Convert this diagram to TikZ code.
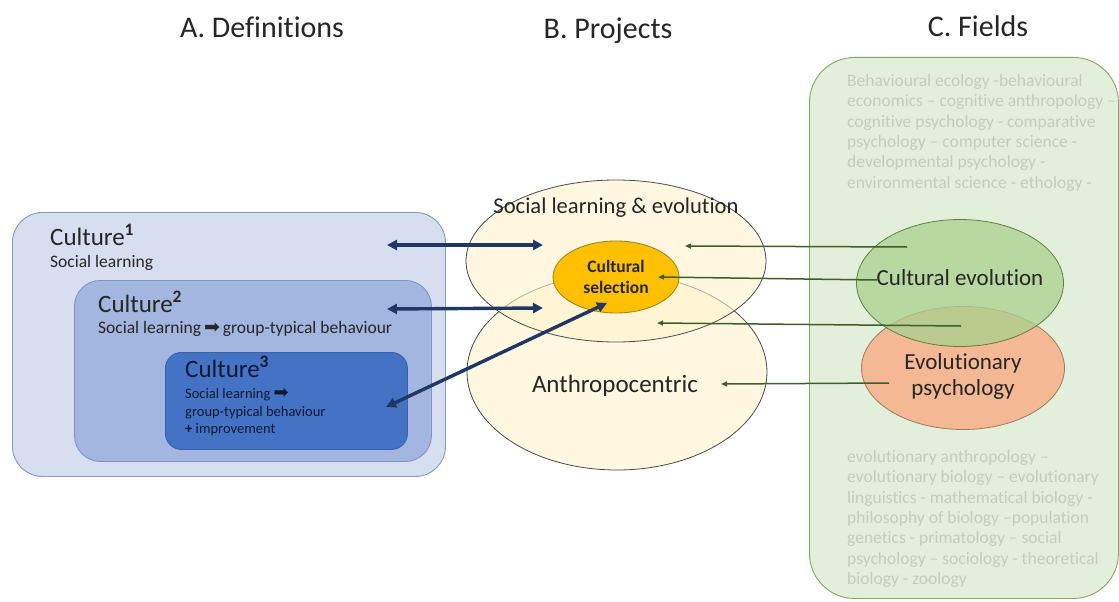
\documentclass[tikz,border=0pt]{standalone}
\usepackage{fontspec}
\setmainfont{Carlito}[Ligatures={TeX,NoCommon}]
\newfontfamily\symfont{DejaVu Sans}
\usetikzlibrary{shapes.geometric,arrows.meta}

\definecolor{inkdark}{HTML}{262626}
\definecolor{defonefill}{HTML}{D6DEF0}
\definecolor{defoneline}{HTML}{8A9BB8}
\definecolor{deftwofill}{HTML}{A2B6E0}
\definecolor{deftwoline}{HTML}{7E95C0}
\definecolor{defthreefill}{HTML}{4472C4}
\definecolor{defthreeline}{HTML}{3A62AC}
\definecolor{defthreetext}{HTML}{0E1A33}
\definecolor{projfill}{HTML}{FFF2CC}
\definecolor{projline}{HTML}{4A4A4A}
\definecolor{selfill}{HTML}{FFC000}
\definecolor{selline}{HTML}{A88520}
\definecolor{fieldfill}{HTML}{E2EFDA}
\definecolor{fieldline}{HTML}{86A865}
\definecolor{fieldtext}{HTML}{C4CDBF}
\definecolor{cevfill}{HTML}{A9D18E}
\definecolor{cevline}{HTML}{5F7F45}
\definecolor{evpfill}{HTML}{F4B994}
\definecolor{evpline}{HTML}{9E7A5E}
\definecolor{navy}{HTML}{203864}
\definecolor{leafgreen}{HTML}{3E5E2A}

\tikzset{
  title/.style={anchor=base, inner sep=0pt, text=inkdark, font=\fontsize{30}{36}\selectfont},
  defbox/.style={draw, anchor=north west, inner sep=0pt, line width=0.9pt},
  label/.style={anchor=base west, inner sep=0pt, text=inkdark},
  proj/.style={ellipse, draw=projline, line width=0.8pt, fill=projfill, fill opacity=0.6, inner sep=0pt},
  fieldtxt/.style={anchor=north west, inner sep=0pt, align=left, text=fieldtext,
    font=\fontsize{17.5}{20.4}\selectfont},
  twoway/.style={draw=navy, line width=3.4pt, {Triangle[length=10pt,width=10pt]}-{Triangle[length=10pt,width=10pt]}},
  feed/.style={draw=leafgreen, line width=1.5pt, -{Triangle[length=6pt,width=5pt]}},
}

\begin{document}
\begin{tikzpicture}[x=1pt,y=-1pt]
\useasboundingbox (0,0) rectangle (1119,602);
\fill[white] (0,0) rectangle (1119,602);

% column headings
\node[title] (headA) at (262,38) {A. Definitions};
\node[title] (headB) at (608,39) {B. Projects};
\node[title] (headC) at (978,37) {C. Fields};

% A: nested definitions of culture
\node[defbox, draw=defoneline, fill=defonefill, rounded corners=30pt,
      minimum width=433pt, minimum height=264pt] (def1) at (12,212) {};
\node[defbox, draw=deftwoline, fill=deftwofill, rounded corners=26pt,
      minimum width=357pt, minimum height=181pt] (def2) at (74,280) {};
\node[defbox, draw=defthreeline, fill=defthreefill, rounded corners=16pt,
      minimum width=242pt, minimum height=97pt] (def3) at (165,352) {};

\node[label, font=\fontsize{25}{30}\selectfont] (c1) at (50,245) {Culture\textsuperscript{\textbf{1}}};
\node[label, font=\fontsize{17.5}{21}\selectfont] (c1s) at (50,267) {Social learning};
\node[label, font=\fontsize{25}{30}\selectfont] (c2) at (98,312) {Culture\textsuperscript{\textbf{2}}};
\node[label, font=\fontsize{17.5}{21}\selectfont] (c2s) at (98,333)
  {Social learning\,{\symfont\fontsize{19}{20}\selectfont ➡}\,group-typical behaviour};
\node[label, font=\fontsize{25}{30}\selectfont, text=defthreetext] (c3) at (185,377) {Culture\textsuperscript{\textbf{3}}};
\node[label, font=\fontsize{14.5}{17}\selectfont, text=defthreetext] (c3a) at (185,398)
  {Social learning {\symfont\fontsize{18}{18}\selectfont ➡}};
\node[label, font=\fontsize{14.5}{17}\selectfont, text=defthreetext] (c3b) at (185,416) {group-typical behaviour};
\node[label, font=\fontsize{14.5}{17}\selectfont, text=defthreetext] (c3c) at (185,433) {\textbf{+} improvement};

% B: research projects
\node[proj, minimum width=300pt, minimum height=196pt] (anthro) at (617,372) {};
\node[proj, minimum width=300pt, minimum height=162pt] (slevo) at (616,261) {};
\node[anchor=base, inner sep=0pt, text=inkdark, font=\fontsize{22.6}{27}\selectfont] (slevot) at (616,213) {Social learning \& evolution};
\node[anchor=base, inner sep=0pt, text=inkdark, font=\fontsize{25}{30}\selectfont] (anthrot) at (615,392) {Anthropocentric};
\node[ellipse, draw=selline, line width=0.9pt, fill=selfill, inner sep=0pt,
      minimum width=126pt, minimum height=72pt, align=center, text=inkdark,
      font=\bfseries\fontsize{17.5}{21}\selectfont] (sel) at (616,277) {Cultural\\selection};

% C: contributing fields
\node[draw=fieldline, fill=fieldfill, line width=0.9pt, rounded corners=45pt,
      anchor=north west, inner sep=0pt, minimum width=309pt, minimum height=541pt] (fields) at (809,57) {};
\node[fieldtxt] (fieldsTop) at (847,74) {Behavioural ecology -behavioural\\
economics -- cognitive anthropology --\\
cognitive psychology - comparative\\
psychology -- computer science -\\
developmental psychology -\\
environmental science - ethology -};
\node[fieldtxt] (fieldsBot) at (847,450) {evolutionary anthropology --\\
evolutionary biology -- evolutionary\\
linguistics - mathematical biology -\\
philosophy of biology --population\\
genetics - primatology -- social\\
psychology -- sociology - theoretical\\
biology - zoology};

\node[ellipse, draw=evpline, line width=0.8pt, fill=evpfill, inner sep=0pt,
      minimum width=203pt, minimum height=123pt] (evp) at (963,368) {};
\node[ellipse, draw=cevline, line width=0.8pt, fill=cevfill, fill opacity=0.75, inner sep=0pt,
      minimum width=207pt, minimum height=127pt] (cev) at (960,283) {};
\node[anchor=base, inner sep=0pt, text=inkdark, font=\fontsize{23}{27}\selectfont] (cevt) at (960,285) {Cultural evolution};
\node[anchor=base, inner sep=0pt, text=inkdark, font=\fontsize{23}{27}\selectfont] (evpt1) at (963,369) {Evolutionary};
\node[anchor=base, inner sep=0pt, text=inkdark, font=\fontsize{23}{27}\selectfont] (evpt2) at (963,395) {psychology};

% connector ends
\coordinate (d1) at (387,245);
\coordinate (p1) at (543,245);
\coordinate (d2) at (387,309);
\coordinate (p2) at (543,308);
\coordinate (d3) at (386,407);
\coordinate (p3) at (607,303);
\coordinate (f1) at (907,247);
\coordinate (q1) at (685,246);
\coordinate (f2) at (877,280);
\coordinate (q2) at (658,277);
\coordinate (f3) at (961,326);
\coordinate (q3) at (657,323);
\coordinate (f4) at (889,383);
\coordinate (q4) at (721,384);

% definitions <-> projects
\draw[twoway] (d1) -- (p1);
\draw[twoway] (d2) -- (p2);
\draw[twoway] (d3) -- (p3);

% fields -> projects
\draw[feed] (f1) -- (q1);
\draw[feed] (f2) -- (q2);
\draw[feed] (f3) -- (q3);
\draw[feed] (f4) -- (q4);
\end{tikzpicture}
\end{document}
